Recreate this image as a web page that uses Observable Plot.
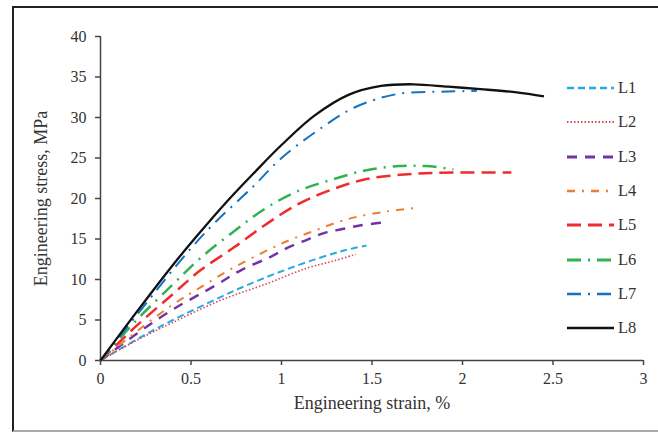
<!DOCTYPE html>
<html>
<head>
<meta charset="utf-8">
<script src="https://cdn.jsdelivr.net/npm/d3@7"></script>
<script src="https://cdn.jsdelivr.net/npm/@observablehq/plot@0.6"></script>
<style>
  html, body { margin: 0; padding: 0; background: #fff; }
  #wrap { position: relative; width: 658px; height: 436px; overflow: hidden; font-family: "Liberation Serif", "DejaVu Serif", serif; }
  #frame { position: absolute; left: 12px; top: 6px; width: 700px; height: 426px; border-left: 2px solid #222; border-top: 2px solid #222; border-bottom: 2px solid #aaa; box-sizing: border-box; pointer-events: none; }
  #legend { position: absolute; left: 566px; top: 71px; }
  .item { display: flex; align-items: center; height: 34.3px; }
  .item span { font-size: 16.5px; color: #333; margin-left: 4px; }
  #chart { position: absolute; left: 0; top: 0; }
</style>
</head>
<body>
<div id="wrap">
  <div id="chart"></div>
  <div id="frame"></div>
  <div id="legend"></div>
</div>
<script>
const seriesNames = ["L1", "L2", "L3", "L4", "L5", "L6", "L7", "L8"];
const seriesColors = ["#2aa9e0", "#d64a5a", "#7334a3", "#ec7c30", "#ef2b2b", "#2fb34e", "#1172c2", "#111111"];
const seriesDash = ["7,4", "1.5,2", "10,8", "8,7,2,7", "14,7", "14,7,2,7", "14,7,2,7", "none"];
const seriesWidth = [2, 1.6, 2.5, 2, 2.5, 2.5, 2, 2.3];

const L1strain = [0, 0.2, 0.4, 0.66, 0.83, 1.01, 1.2, 1.35, 1.47];
const L1stress = [0, 2.6, 5.0, 7.8, 9.5, 11.1, 12.6, 13.6, 14.2];
const L2strain = [0, 0.2, 0.4, 0.66, 0.92, 1.14, 1.29, 1.41];
const L2stress = [0, 2.5, 4.7, 7.4, 9.5, 11.4, 12.3, 13.1];
const L3strain = [0, 0.2, 0.4, 0.63, 0.78, 0.94, 1.04, 1.14, 1.23, 1.33, 1.44, 1.55];
const L3stress = [0, 3.3, 6.3, 9.2, 11.2, 12.8, 14.0, 14.9, 15.7, 16.2, 16.7, 17.0];
const L4strain = [0, 0.2, 0.4, 0.55, 0.73, 0.94, 1.06, 1.18, 1.3, 1.41, 1.58, 1.73];
const L4stress = [0, 3.6, 6.9, 9.0, 11.4, 13.8, 15.0, 16.0, 17.0, 17.7, 18.4, 18.8];
const L5strain = [0, 0.2, 0.4, 0.55, 0.74, 0.92, 1.1, 1.29, 1.47, 1.7, 1.95, 2.27];
const L5stress = [0, 4.3, 8.2, 11.1, 14.0, 16.9, 19.4, 21.2, 22.4, 23.0, 23.2, 23.2];
const L6strain = [0, 0.2, 0.4, 0.55, 0.74, 0.92, 1.1, 1.29, 1.47, 1.65, 1.8, 1.95];
const L6stress = [0, 5.0, 9.4, 12.6, 16.0, 18.9, 21.0, 22.4, 23.5, 24.0, 24.0, 23.6];
const L7strain = [0, 0.25, 0.49, 0.64, 0.84, 1.0, 1.2, 1.4, 1.64, 1.92, 2.08];
const L7stress = [0, 7.0, 13.6, 17.2, 21.4, 25.0, 28.4, 31.2, 32.9, 33.2, 33.3];
const L8strain = [0, 0.2, 0.4, 0.53, 0.71, 0.85, 1.0, 1.18, 1.37, 1.55, 1.73, 1.92, 2.1, 2.3, 2.45];
const L8stress = [0, 6.0, 11.8, 15.3, 19.9, 23.2, 26.6, 30.2, 32.8, 33.9, 34.1, 33.8, 33.5, 33.1, 32.6];

const xTicks = [0, 0.5, 1, 1.5, 2, 2.5, 3];
const yTicks = [0, 5, 10, 15, 20, 25, 30, 35, 40];

const strains = [L1strain, L2strain, L3strain, L4strain, L5strain, L6strain, L7strain, L8strain];
const stresses = [L1stress, L2stress, L3stress, L4stress, L5stress, L6stress, L7stress, L8stress];

const marks = [];
seriesNames.forEach((name, i) => {
  const rows = strains[i].map((x, j) => ({ series: name, strain: x, stress: stresses[i][j] }));
  marks.push(Plot.line(rows, {
    x: "strain", y: "stress", curve: "catmull-rom",
    stroke: seriesColors[i], strokeWidth: seriesWidth[i],
    strokeDasharray: seriesDash[i] === "none" ? null : seriesDash[i],
    strokeLinecap: "butt"
  }));
});

const chart = Plot.plot({
  width: 658, height: 436,
  marginLeft: 100, marginRight: 15, marginTop: 36, marginBottom: 76,
  style: { fontFamily: "'Liberation Serif', serif", fontSize: "16px", color: "#333", background: "transparent" },
  x: { domain: [0, 3] },
  y: { domain: [0, 40] },
  marks: [
    Plot.axisX({ ticks: xTicks, tickSize: 5, tickPadding: 7, tickFormat: d => String(d), stroke: "#444", strokeWidth: 1.5, label: "Engineering strain, %", labelAnchor: "center", labelOffset: 48, labelArrow: "none", fontSize: 16 }),
    Plot.axisY({ ticks: yTicks, tickSize: 5, tickPadding: 9, tickFormat: d => String(d), stroke: "#444", strokeWidth: 1.5, label: "Engineering stress, MPa", labelAnchor: "center", labelOffset: 66, labelArrow: "none", fontSize: 16 }),
    Plot.ruleX([0], { stroke: "#444", strokeWidth: 1.5 }),
    Plot.ruleY([0], { stroke: "#444", strokeWidth: 1.5 }),
    ...marks
  ]
});
chart.querySelectorAll("g[aria-label='x-axis label'] text, g[aria-label='y-axis label'] text").forEach(t => { t.setAttribute("font-size", "18"); t.style.fontSize = "18px"; });
document.getElementById("chart").appendChild(chart);

const legend = document.getElementById("legend");
seriesNames.forEach((name, i) => {
  const item = document.createElement("div");
  item.className = "item";
  const ns = "http://www.w3.org/2000/svg";
  const svg = document.createElementNS(ns, "svg");
  svg.setAttribute("width", "48"); svg.setAttribute("height", "10");
  const line = document.createElementNS(ns, "line");
  line.setAttribute("x1", "1"); line.setAttribute("x2", "48");
  line.setAttribute("y1", "5"); line.setAttribute("y2", "5");
  line.setAttribute("stroke", seriesColors[i]);
  line.setAttribute("stroke-width", seriesWidth[i] + 0.3);
  if (seriesDash[i] !== "none") line.setAttribute("stroke-dasharray", seriesDash[i]);
  svg.appendChild(line);
  const label = document.createElement("span");
  label.textContent = name;
  item.appendChild(svg); item.appendChild(label);
  legend.appendChild(item);
});
</script>
</body>
</html>
